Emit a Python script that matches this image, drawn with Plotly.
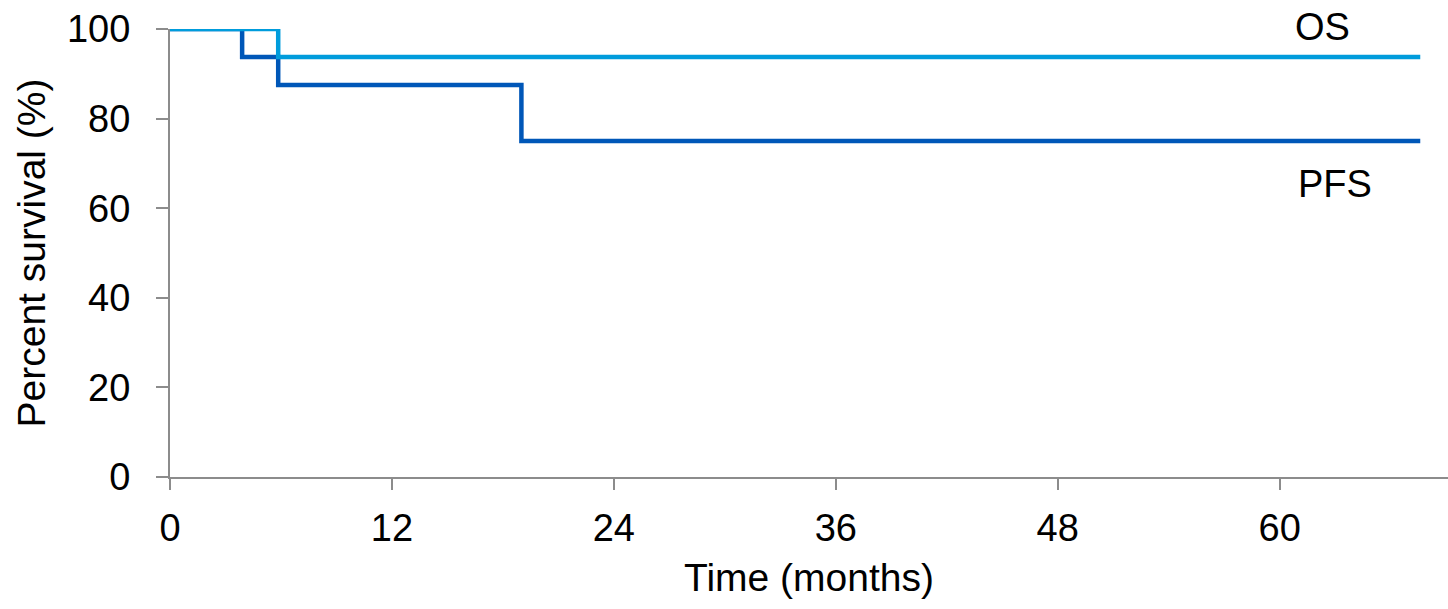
import plotly.graph_objects as go

os_time = [0, 5.85, 67.6]
os_surv = [100, 93.75, 93.75]
pfs_time = [0, 3.9, 5.85, 19.0, 67.6]
pfs_surv = [100, 93.75, 87.5, 75.0, 75.0]
x_ticks = [0, 12, 24, 36, 48, 60]
y_ticks = [0, 20, 40, 60, 80, 100]

fig = go.Figure()
fig.add_trace(go.Scatter(x=pfs_time, y=pfs_surv, mode="lines", line_shape="hv",
                         line=dict(color="#0057b8", width=4.5), name="PFS", cliponaxis=False))
fig.add_trace(go.Scatter(x=os_time, y=os_surv, mode="lines", line_shape="hv",
                         line=dict(color="#009cdc", width=4.5), name="OS", cliponaxis=False))

fam = "Liberation Sans, Arial, sans-serif"
font = dict(family=fam, size=38, color="black")
tfont = dict(family=fam, size=39, color="black")
fig.update_layout(
    width=1448, height=609,
    margin=dict(l=170, r=0, t=29, b=132),
    plot_bgcolor="white", paper_bgcolor="white",
    showlegend=False,
    font=font,
    xaxis=dict(range=[0, 69.1], tickvals=x_ticks, showgrid=False, zeroline=False,
               showline=True, linecolor="#8c8c8c", linewidth=2,
               ticks="outside", ticklen=11, tickwidth=2, tickcolor="#8c8c8c",
               tickfont=font, ticklabelstandoff=5,
               title=dict(text="Time (months)", font=tfont, standoff=16)),
    yaxis=dict(range=[0, 100], tickvals=y_ticks, showgrid=False, zeroline=False,
               showline=True, linecolor="#8c8c8c", linewidth=2,
               ticks="outside", ticklen=12, tickwidth=2, tickcolor="#8c8c8c",
               tickfont=font, ticklabelstandoff=18,
               title=dict(text="Percent survival (%)", font=tfont, standoff=9)),
    annotations=[
        dict(x=62.3, y=93.75, xref="x", yref="y", text="OS", showarrow=False,
             yshift=30, font=font),
        dict(x=63.0, y=75, xref="x", yref="y", text="PFS", showarrow=False,
             yshift=-43, font=font),
    ],
)
fig.write_html("out.html", config={"displayModeBar": False},
               post_script="document.body.style.margin='0';document.body.style.overflow='hidden';")
